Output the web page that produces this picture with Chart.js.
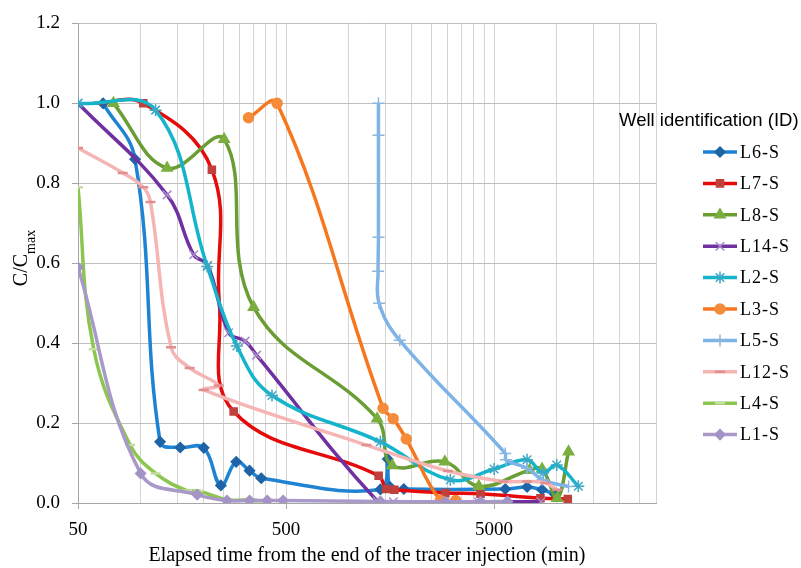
<!DOCTYPE html>
<html>
<head>
<meta charset="utf-8">
<script src="https://cdn.jsdelivr.net/npm/chart.js@4.4.1/dist/chart.umd.min.js"></script>
<style>
  html, body { margin: 0; padding: 0; background: #fff; }
  canvas { display: block; }
</style>
</head>
<body>
<canvas id="tracerChart" width="801" height="568"></canvas>
<script>
    // axis setup
    const xMin = 50;
    const xMax = 30000;
    const xTickLabels = [50, 500, 5000];
    const yMin = 0;
    const yMax = 1.2;
    const yStep = 0.2;

    // each well: [elapsed time (min), C/Cmax]
    const l6s = [[66, 1.0], [94, 0.86], [124, 0.153], [155, 0.139], [201, 0.138], [243, 0.044], [288, 0.103], [334, 0.081], [380, 0.062], [1420, 0.034], [1540, 0.11], [1580, 0.04], [1840, 0.035], [5660, 0.035], [7200, 0.04], [8500, 0.033], [9800, 0.022]];
    const l7s = [[60, 1.0], [103, 1.0], [220, 0.834], [239, 0.5], [280, 0.229], [1393, 0.068], [1513, 0.035], [1658, 0.033], [2916, 0.025], [4300, 0.023], [8350, 0.012], [11300, 0.01]];
    const l8s = [[74, 1.0], [134, 0.838], [252, 0.91], [349, 0.49], [1370, 0.211], [1620, 0.094], [2900, 0.103], [4220, 0.042], [7400, 0.082], [8500, 0.085], [10050, 0.012], [11400, 0.128]];
    const l14s = [[50, 1.0], [134, 0.771], [180, 0.621], [210, 0.595], [265, 0.426], [318, 0.405], [361, 0.37], [1370, 0.005], [1640, 0.003], [2900, 0.003], [4200, 0.003], [8400, 0.003]];
    const l2s = [[50, 1.0], [118, 0.983], [209, 0.592], [290, 0.393], [428, 0.269], [1420, 0.153], [3080, 0.058], [5000, 0.085], [7200, 0.108], [8600, 0.075], [10000, 0.095], [12700, 0.042]];
    const l3s = [[330, 0.964], [453, 1.0], [1463, 0.237], [1636, 0.211], [1892, 0.16], [2760, 0.006], [3270, 0.006]];
    const l5s = [[1390, 1.0], [1390, 0.92], [1390, 0.665], [1385, 0.58], [1400, 0.5], [1760, 0.407], [5660, 0.124], [5700, 0.108], [7200, 0.087], [8550, 0.058], [11400, 0.041]];
    const l12s = [[50, 0.888], [82, 0.826], [103, 0.79], [111.5, 0.753], [140, 0.39], [172, 0.338], [237, 0.294], [201, 0.283], [1217, 0.145], [3000, 0.08], [5550, 0.054], [7200, 0.054], [8830, 0.05], [10050, 0.033]];
    const l4s = [[50, 0.79], [59.5, 0.385], [89, 0.145], [118, 0.074], [167, 0.031], [190, 0.03], [260, 0.008], [349, 0.008], [370, 0.003]];
    const l1s = [[50, 0.59], [100, 0.074], [187, 0.021], [260, 0.006], [334, 0.006], [406, 0.006], [484, 0.006], [1420, 0.004], [2900, 0.003], [4300, 0.003], [5800, 0.004]];

    const wellNames = ['L6-S', 'L7-S', 'L8-S', 'L14-S', 'L2-S', 'L3-S', 'L5-S', 'L12-S', 'L4-S', 'L1-S'];
    const wellSeries = [l6s, l7s, l8s, l14s, l2s, l3s, l5s, l12s, l4s, l1s];

    // styles
    const lineColors = ['#1E83D3', '#E60B0B', '#6A9E34', '#7030A0', '#14B4CB', '#F7771E', '#7DB3E6', '#F5B5B5', '#8CC64E', '#A899C9'];
    const markerColors = ['#1E64A6', '#C0413C', '#7AAE3E', '#A98BCB', '#38A9C4', '#F48C3C', '#8AB6E2', '#E08E8E', '#C6DE9F', '#A494C6'];
    const markerStyles = ['rectRot', 'rect', 'triangle', 'crossRot', 'star', 'circle', 'cross', 'line', 'line', 'rectRot'];
    const markerSizes = [5, 5, 6, 6, 6, 5, 6, 5, 5, 5];
    // markers hidden under other lines in the original (series index -> point indexes)
    const hiddenMarkers = { 1: [0, 3] };

    // gridlines every 50 / 500 / 5000 inside each decade
    const xGridValues = [];
    xTickLabels.forEach(function(start) {
        for (let k = 1; k <= 10; k++) {
            const v = start * k;
            if (v <= xMax && xGridValues.indexOf(v) === -1) xGridValues.push(v);
        }
    });

    const datasets = wellNames.map(function(name, i) {
        return {
            label: name,
            data: wellSeries[i].map(p => ({ x: p[0], y: p[1] })),
            borderColor: lineColors[i],
            backgroundColor: lineColors[i],
            borderWidth: 3.5,
            tension: 0.4,
            fill: false,
            pointStyle: markerStyles[i],
            pointRadius: function(c) {
                const hidden = hiddenMarkers[i];
                return hidden && hidden.indexOf(c.dataIndex) !== -1 ? 0 : markerSizes[i];
            },
            legendRadius: markerSizes[i],
            pointBackgroundColor: markerColors[i],
            pointBorderColor: markerColors[i],
            pointBorderWidth: markerStyles[i] === 'line' ? 2.5 : 1.5,
            order: wellNames.length - i
        };
    });

    const yTitlePlugin = {
        id: 'yTitle',
        afterDraw(chart) {
            const ctx = chart.ctx;
            ctx.save();
            ctx.fillStyle = '#000';
            ctx.textBaseline = 'alphabetic';
            ctx.textAlign = 'left';
            const mainFont = '20px "Liberation Serif"';
            const subFont = '14px "Liberation Serif"';
            ctx.font = mainFont;
            const w1 = ctx.measureText('C/C').width;
            ctx.font = subFont;
            const w2 = ctx.measureText('max').width;
            ctx.translate(27, 258 + (w1 + w2) / 2);
            ctx.rotate(-Math.PI / 2);
            ctx.font = mainFont;
            ctx.fillText('C/C', 0, 0);
            ctx.font = subFont;
            ctx.fillText('max', w1, 8);
            ctx.restore();
        }
    };

    const wellLegend = {
        id: 'wellLegend',
        afterDraw(chart) {
            const ctx = chart.ctx;
            ctx.save();
            ctx.fillStyle = '#000';
            ctx.textBaseline = 'middle';
            ctx.textAlign = 'left';
            ctx.font = '18.5px "Liberation Sans"';
            ctx.fillText('Well identification (ID)', 619, 121);
            chart.data.datasets.forEach(function(ds, i) {
                const y = 152 + i * 31.4;
                ctx.strokeStyle = ds.borderColor;
                ctx.lineWidth = 3.5;
                ctx.beginPath();
                ctx.moveTo(703, y);
                ctx.lineTo(737, y);
                ctx.stroke();
                ctx.fillStyle = ds.pointBackgroundColor;
                ctx.strokeStyle = ds.pointBorderColor;
                ctx.lineWidth = ds.pointBorderWidth;
                Chart.helpers.drawPoint(ctx, {
                    pointStyle: ds.pointStyle,
                    radius: ds.legendRadius,
                    rotation: 0,
                    borderWidth: ds.pointBorderWidth
                }, 720, y);
                ctx.fillStyle = '#000';
                ctx.font = '18px "Liberation Serif"';
                if ('letterSpacing' in ctx) ctx.letterSpacing = '1px';
                ctx.fillText(ds.label, 740, y + 1);
                if ('letterSpacing' in ctx) ctx.letterSpacing = '0px';
            });
            ctx.restore();
        }
    };

    const tickFont = { family: 'Liberation Serif', size: 19 };

    new Chart(document.getElementById('tracerChart').getContext('2d'), {
        type: 'line',
        data: { datasets: datasets },
        options: {
            responsive: false,
            animation: false,
            layout: { padding: { top: 20, right: 145, left: 0, bottom: 0 } },
            plugins: {
                legend: { display: false },
                tooltip: { enabled: false }
            },
            scales: {
                x: {
                    type: 'logarithmic',
                    min: xMin,
                    max: xMax,
                    afterBuildTicks: function(scale) {
                        scale.ticks = xGridValues.map(v => ({ value: v }));
                    },
                    afterFit: function(scale) { scale.height = 65; },
                    ticks: {
                        autoSkip: false,
                        maxRotation: 0,
                        padding: 10,
                        color: '#000',
                        font: tickFont,
                        callback: function(value) {
                            return xTickLabels.indexOf(value) !== -1 ? String(value) : '';
                        }
                    },
                    grid: {
                        color: '#D4D4D4',
                        lineWidth: 1,
                        tickLength: 6,
                        tickColor: function(c) {
                            return c.tick && xTickLabels.indexOf(c.tick.value) !== -1 ? '#A6A6A6' : 'rgba(0,0,0,0)';
                        }
                    },
                    border: { color: '#A6A6A6' },
                    title: {
                        display: true,
                        text: 'Elapsed time from the end of the tracer injection (min)',
                        color: '#000',
                        font: { family: 'Liberation Serif', size: 20 },
                        padding: { top: 0, bottom: 0 }
                    }
                },
                y: {
                    min: yMin,
                    max: yMax,
                    afterFit: function(scale) { scale.width = 78; },
                    ticks: {
                        stepSize: yStep,
                        padding: 12,
                        color: '#000',
                        font: tickFont,
                        callback: v => Number(v).toFixed(1)
                    },
                    grid: { color: '#BFBFBF', lineWidth: 1, tickLength: 6, tickColor: '#A6A6A6' },
                    border: { color: '#A6A6A6' }
                }
            }
        },
        plugins: [yTitlePlugin, wellLegend]
    });
</script>
</body>
</html>
